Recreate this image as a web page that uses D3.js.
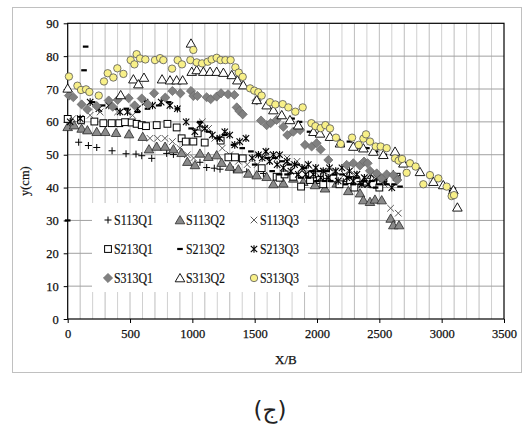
<!DOCTYPE html>
<html><head><meta charset="utf-8">
<script src="https://cdn.jsdelivr.net/npm/d3@7"></script>
<style>body{margin:0;background:#fff}svg{display:block}</style>
</head><body>
<svg id="c" width="524" height="428"></svg>
<script>
// ---- data ----
const xTicks = [0, 500, 1000, 1500, 2000, 2500, 3000, 3500];
const yTicks = [0, 10, 20, 30, 40, 50, 60, 70, 80, 90];
const xLabel = "X/B";
const yLabel = "y(cm)";
const caption = "(ج)";
const seriesNames = ["S113Q1","S113Q2","S113Q3","S213Q1","S213Q2","S213Q3","S313Q1","S313Q2","S313Q3"];

const s1q1 = [[88,53.8],[166,52.8],[233,52.2],[356,51.2],[468,50.3],[548,50.2],[594,49.7],[674,48.9],[794,50.4],[848,50.1],[1061,47.7],[1115,46.1],[1176,45.9],[1222,45.6],[1329,45.4],[1436,44.8],[1570,44.3],[1676,43.3],[1810,42.8],[1944,42.3],[2078,42.8],[2211,41.8],[2345,41.8],[2479,42.3],[2612,44.3]];
const s1q2 = [[0,58.5],[51,59],[112,58],[158,57.5],[233,57],[302,57],[388,56.7],[492,56.3],[602,55.5],[652,51.7],[714,52.5],[781,52.5],[848,51.7],[914,50.6],[960,47.9],[1021,46.9],[1061,50.4],[1128,49.4],[1195,49.9],[1235,47.6],[1302,46.4],[1369,45.6],[1449,44.3],[1516,43.8],[1596,43.3],[1650,41.1],[1730,41.3],[1810,42.8],[1890,41.8],[1984,40.8],[2064,39.8],[2158,41.3],[2251,39],[2345,38.3],[2372,36.2],[2425,35.7],[2465,36.4],[2519,36.2],[2591,30.6],[2612,28.6],[2658,28.6]];
const s1q3 = [[40,61],[110,60],[180,62],[260,63],[400,63],[520,62],[660,55],[720,55],[780,55],[840,54],[900,52],[960,50],[1010,49],[1080,60],[1130,58],[1180,55],[1240,52],[1300,50],[1370,48],[1440,47],[1520,47],[1600,50],[1680,49],[1760,49],[1840,48],[1900,46],[1980,45],[2060,45],[2140,45],[2220,44],[2300,44],[2380,43],[2460,43],[2540,41],[2590,33.7],[2652,32.2]];
const s2q1 = [[0,60.9],[107,60.6],[214,60.1],[286,59.6],[353,59.6],[414,59.6],[460,59.9],[513,59.8],[553,59.4],[594,59],[628,58.7],[714,59],[800,59.4],[874,58.3],[914,55],[947,54],[1008,54],[1043,56.5],[1099,53.7],[1227,54.3],[1289,49.2],[1342,49.2],[1404,48.9],[1556,45.9],[1676,43.3],[1700,43],[1740,44],[1810,43.3],[1872,40.3],[1944,42.3],[1960,44],[2024,42.3],[2050,41],[2131,42.8],[2180,41],[2265,42.3],[2300,40],[2398,41.8],[2450,41],[2500,40],[2532,42.8],[2639,43.3]];
const s2q2 = [[0,30],[131,75.7],[144,82.9],[200,66],[280,65],[380,64],[470,64],[560,63],[640,64],[730,65],[810,66],[880,64],[990,58],[1060,60],[1130,57],[1200,55],[1260,56],[1330,53],[1400,52],[1470,51],[1500,47],[1530,50],[1600,49],[1640,45],[1660,49],[1700,44],[1720,48],[1760,44],[1780,47],[1800,61],[1840,47],[1860,60],[1870,43],[1900,46],[1930,43],[1940,57],[1960,45],[2000,42],[2020,45],[2060,42],[2080,45],[2110,42],[2140,44],[2200,44],[2200,53],[2230,41],[2260,43],[2260,54],[2290,41],[2320,43],[2330,52],[2350,41],[2380,42],[2400,52],[2440,42],[2470,40],[2470,51],[2500,41],[2540,50],[2560,41],[2620,41],[2666,40.3],[3080,39],[3100,38]];
const s2q3 = [[20,60],[100,61],[180,66],[250,64],[330,65],[420,63],[480,63],[560,64],[620,66],[680,65],[750,66],[820,65],[880,64],[950,60],[1020,57],[1060,59],[1100,58],[1160,56],[1220,55],[1260,57],[1300,56],[1340,53],[1380,54],[1430,55],[1480,49],[1530,50],[1560,49],[1590,51],[1620,48],[1650,50],[1680,47],[1700,50],[1730,46],[1760,48],[1790,45],[1820,47],[1850,44],[1880,46],[1910,44],[1930,47],[1970,44],[1990,46],[2030,43],[2050,45],[2090,43],[2100,46],[2150,45],[2170,42],[2200,46],[2240,43],[2260,45],[2290,42],[2320,44],[2360,41],[2380,43],[2410,41],[2430,44],[2480,43],[2540,42],[2600,40],[2640,43],[3090,39]];
const s3q1 = [[10,68],[45,67.5],[112,65.3],[158,63.8],[233,64.8],[329,66.5],[361,64.6],[401,66.7],[489,67.2],[537,65],[594,67.1],[642,65.4],[693,68.7],[783,67.4],[840,69.4],[904,68.7],[989,69.4],[1008,67.9],[1040,67.9],[1115,67.5],[1147,66.9],[1195,67.7],[1230,68.7],[1286,68.4],[1337,68.2],[1356,64.4],[1377,63.3],[1404,62.3],[1516,66.5],[1551,60.4],[1596,59],[1628,59.6],[1676,60.6],[1730,58.5],[1762,56],[1810,57],[1864,57.5],[1904,53],[1957,52.5],[1997,53.5],[2029,51.6],[2091,48.4],[2238,46.9],[2291,47.4],[2344,46.7],[2377,47.9],[2406,47.4],[2425,45.1],[2479,44.3],[2519,42.8],[2559,44],[2612,43.8],[2644,42.3]];
const s3q2 = [[0,70.2],[425,68.2],[527,73],[567,71.5],[612,73.5],[757,73],[821,72.7],[874,72.7],[922,72.7],[989,83.9],[995,75.3],[1035,75.8],[1088,75.3],[1142,75.3],[1195,75.3],[1249,75],[1316,74.3],[1361,72.7],[1409,71.2],[1516,66.7],[1596,65.1],[1650,63.6],[1717,62.1],[1783,60.6],[1850,59],[1971,57],[2024,56.5],[2104,55.5],[2184,53.5],[2291,52.5],[2372,52],[2452,51],[2532,50],[2626,51],[2693,47.4],[2826,44.8],[2933,41.8],[3013,40.8],[3094,39.3],[3126,34]];
const s3q3 = [[10,73.8],[78,71],[107,69.7],[147,69.9],[174,69.1],[249,68],[291,72.3],[321,74.8],[366,73.5],[398,76.3],[447,74.6],[505,78.8],[535,77.5],[553,80.6],[580,79.3],[623,79],[700,78.8],[741,79.4],[767,78.8],[837,76.2],[882,78.8],[917,77.5],[984,78.8],[1008,81.9],[1035,78.1],[1078,77.8],[1123,78.3],[1155,79],[1195,79.5],[1227,78.8],[1265,78.8],[1307,78.8],[1345,76.6],[1372,75],[1404,73.7],[1463,70.2],[1497,69.5],[1529,69],[1556,68],[1623,66],[1666,65.3],[1725,65.4],[1770,64.4],[1826,63.1],[1885,64.4],[1955,59.6],[1987,58.7],[2029,58.1],[2067,59],[2104,58],[2152,55.2],[2190,53.3],[2281,55.2],[2334,53],[2372,54.9],[2393,56.2],[2425,54],[2471,52.5],[2511,52.5],[2559,52],[2626,48.9],[2655,48.2],[2682,48.7],[2719,44.5],[2746,47.4],[2791,46.4],[2853,41],[2906,43.8],[2973,42.8],[3040,40.3],[3080,37.4],[3099,37.7]];

const seriesData = [s1q1, s1q2, s1q3, s2q1, s2q2, s2q3, s3q1, s3q2, s3q3];
const markerTypes = ["plus","triFill","cross","square","dash","star","diamond","triOpen","circle"];

// ---- drawing ----
const svg = d3.select("#c");
const L = 67.7, R = 504, T = 23.3, B = 319;
const x = d3.scaleLinear().domain([0, 3500]).range([L, R]);
const y = d3.scaleLinear().domain([0, 90]).range([B, T]);

svg.append("rect").attr("x", 12.5).attr("y", 7.5).attr("width", 509).attr("height", 365)
  .attr("fill", "#fff").attr("stroke", "#c0c0c0");

const vg = d3.range(100, 3500, 100);
svg.append("g").selectAll("line").data(vg).join("line")
  .attr("x1", d => x(d)).attr("x2", d => x(d)).attr("y1", T).attr("y2", B)
  .attr("stroke", (d, i) => i % 2 ? "#d0d0d0" : "#bdbdbd").attr("stroke-width", 1);
svg.append("g").selectAll("line").data(yTicks.filter(d => d > 0 && d < 90)).join("line")
  .attr("x1", L).attr("x2", R).attr("y1", d => y(d)).attr("y2", d => y(d))
  .attr("stroke", "#a0a0a0").attr("stroke-width", 1);

const font = "'Liberation Serif','Times New Roman',serif";
const ax = svg.append("g").attr("transform", `translate(0,${B})`)
  .call(d3.axisBottom(x).tickValues(xTicks).tickSize(4).tickPadding(6).tickFormat(d3.format("d")));
const ay = svg.append("g").attr("transform", `translate(${L},0)`)
  .call(d3.axisLeft(y).tickValues(yTicks).tickSize(4).tickPadding(5));
[ax, ay].forEach(g => {
  g.select(".domain").remove();
  g.selectAll("line").attr("stroke", "#000");
  g.selectAll("text").attr("font-family", font).attr("font-size", 12.5).attr("fill", "#111")
    .attr("stroke", "#111").attr("stroke-width", 0.25);
});
svg.append("rect").attr("x", L).attr("y", T).attr("width", R - L).attr("height", B - T)
  .attr("fill", "none").attr("stroke", "#000").attr("stroke-width", 1.2);

svg.append("text").attr("x", x(1750)).attr("y", 364).attr("text-anchor", "middle")
  .attr("font-family", font).attr("font-size", 13).attr("fill", "#111")
  .attr("stroke", "#111").attr("stroke-width", 0.25).text(xLabel);
svg.append("text").attr("transform", `translate(29,${(T + B) / 2 + 10}) rotate(-90)`)
  .attr("text-anchor", "middle").attr("font-family", font).attr("font-size", 12.5)
  .attr("fill", "#111").attr("stroke", "#111").attr("stroke-width", 0.2).text(yLabel);

function drawMarker(g, type) {
  switch (type) {
    case "plus": g.append("path").attr("d", "M-3.5,0H3.5M0,-3.5V3.5").attr("stroke", "#000").attr("stroke-width", 1).attr("fill", "none"); break;
    case "cross": g.append("path").attr("d", "M-3.3,-3.3L3.3,3.3M-3.3,3.3L3.3,-3.3").attr("stroke", "#5a5a5a").attr("stroke-width", 1).attr("fill", "none"); break;
    case "star": g.append("path").attr("d", "M-3.2,-3.2L3.2,3.2M-3.2,3.2L3.2,-3.2M0,-3.8V3.8").attr("stroke", "#000").attr("stroke-width", 1.1).attr("fill", "none"); break;
    case "dash": g.append("rect").attr("x", -2.8).attr("y", -1.1).attr("width", 5.6).attr("height", 2.2).attr("fill", "#000"); break;
    case "square": g.append("rect").attr("x", -3.4).attr("y", -3.4).attr("width", 6.8).attr("height", 6.8).attr("fill", "#fff").attr("stroke", "#000").attr("stroke-width", 1); break;
    case "triFill": g.append("path").attr("d", "M0,-4.5L4.8,3.8L-4.8,3.8Z").attr("fill", "#8a8a8a").attr("stroke", "#2a2a2a").attr("stroke-width", 0.8); break;
    case "triOpen": g.append("path").attr("d", "M0,-4.5L4.8,3.8L-4.8,3.8Z").attr("fill", "#fff").attr("stroke", "#000").attr("stroke-width", 0.9); break;
    case "diamond": g.append("path").attr("d", "M0,-4.6L4.6,0L0,4.6L-4.6,0Z").attr("fill", "#808080").attr("stroke", "#666").attr("stroke-width", 0.7); break;
    case "circle": g.append("circle").attr("r", 3.7).attr("fill", "#f8f088").attr("stroke", "#555").attr("stroke-width", 0.8); break;
  }
}

const plot = svg.append("g");
seriesData.forEach((data, si) => {
  const gs = plot.append("g").attr("class", "series-" + si);
  data.forEach(d => {
    const m = gs.append("g").attr("transform", `translate(${x(d[0])},${y(d[1])})`);
    drawMarker(m, markerTypes[si]);
  });
});

const lg = svg.append("g");
lg.append("rect").attr("x", 92).attr("y", 203).attr("width", 216).attr("height", 89).attr("fill", "#fff");
const colX = [108, 180, 254], rowY = [220, 249, 278];
seriesNames.forEach((n, i) => {
  const cx = colX[i % 3], cy = rowY[Math.floor(i / 3)];
  const m = lg.append("g").attr("transform", `translate(${cx},${cy})`);
  drawMarker(m, markerTypes[i]);
  lg.append("text").attr("x", cx + 6).attr("y", cy + 5.2).attr("font-family", font)
    .attr("font-size", 15).attr("fill", "#111").attr("stroke", "#111").attr("stroke-width", 0.2)
    .attr("textLength", 39).attr("lengthAdjust", "spacingAndGlyphs").text(n);
});

svg.append("text").attr("x", 270).attr("y", 418).attr("text-anchor", "middle")
  .attr("font-family", "'DejaVu Sans','Noto Sans',sans-serif").attr("font-size", 23)
  .attr("fill", "#222").text(caption);
</script>
</body></html>
